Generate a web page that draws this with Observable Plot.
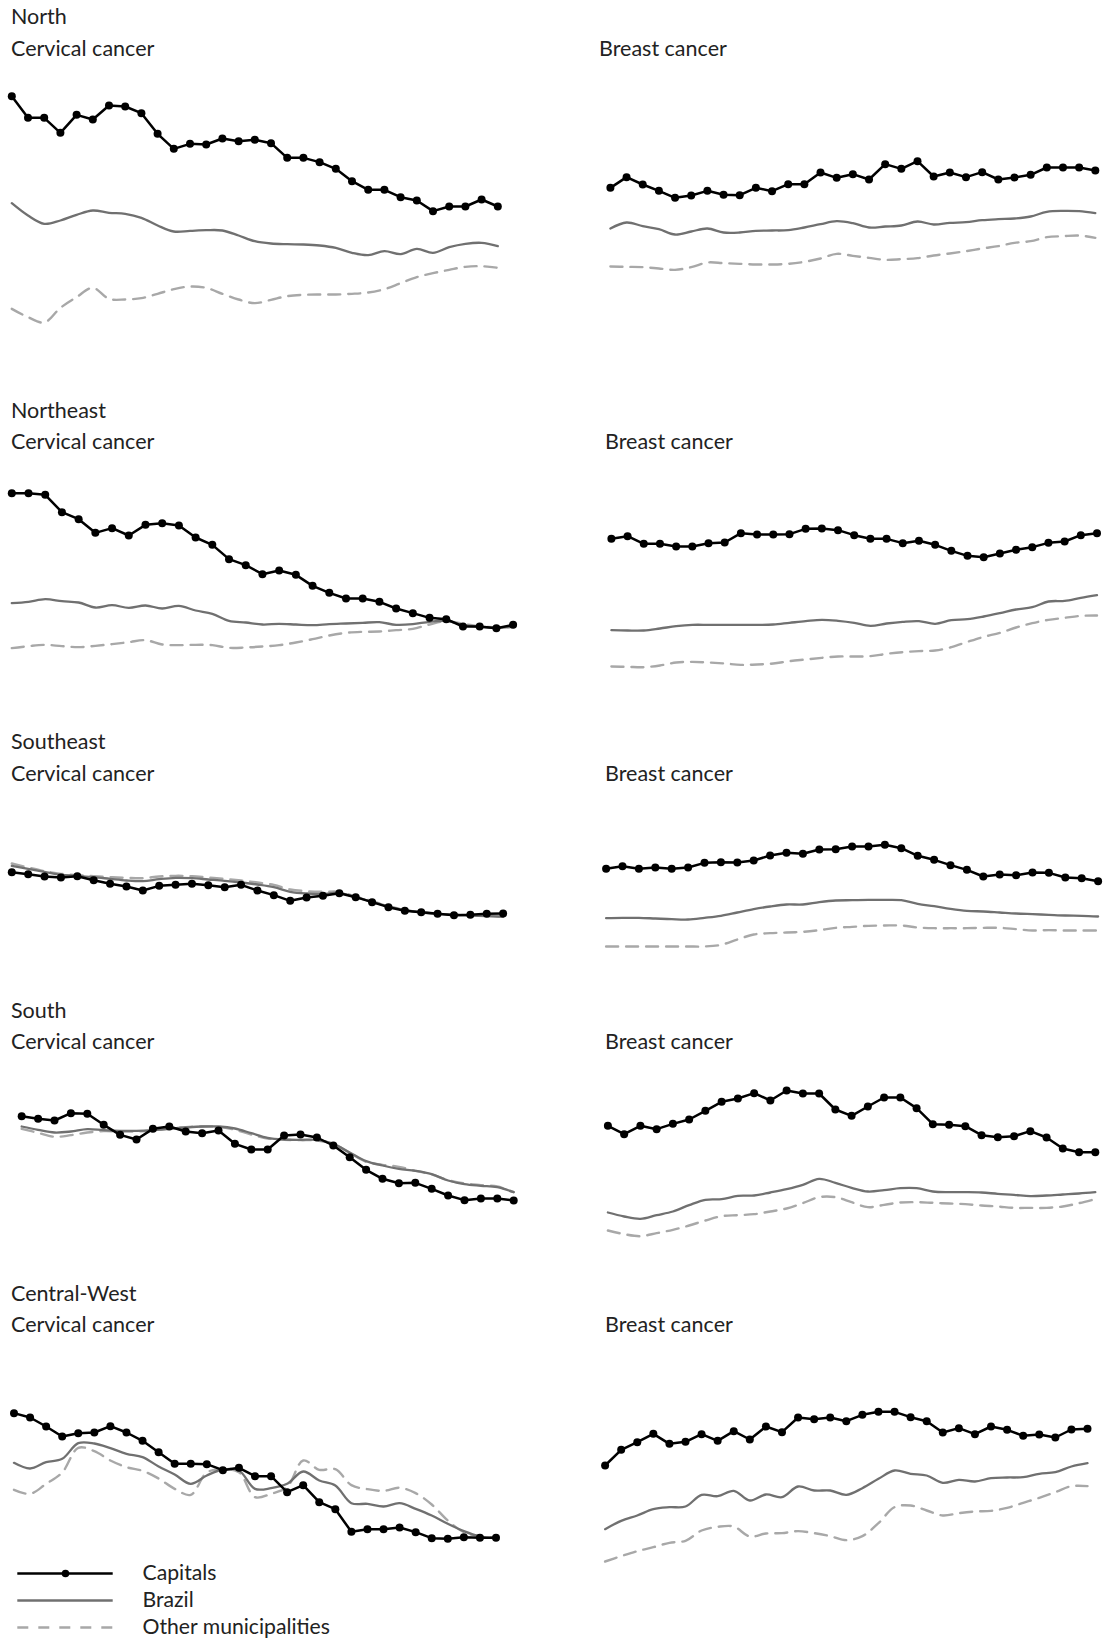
<!DOCTYPE html>
<html>
<head>
<meta charset="utf-8">
<script src="https://cdn.jsdelivr.net/npm/d3@7"></script>
<script src="https://cdn.jsdelivr.net/npm/@observablehq/plot@0.6"></script>
<style>
  html, body { margin: 0; padding: 0; background: #fff; }
  #root { position: relative; width: 1110px; height: 1643px; overflow: hidden; font-family: Lato, "Open Sans", sans-serif; color: #222; }
  .ttl { position: absolute; font-size: 21.5px; line-height: 21.5px; white-space: nowrap; }
  .pnl { position: absolute; }
  .pnl svg { background: transparent; overflow: visible; }
</style>
</head>
<body>
<div id="root"></div>
<script>
// ---------- DATA (age-standardised rates, arbitrary units) ----------
const years = [1980,1981,1982,1983,1984,1985,1986,1987,1988,1989,1990,1991,1992,1993,1994,1995,
               1996,1997,1998,1999,2000,2001,2002,2003,2004,2005,2006,2007,2008,2009,2010];
const seriesNames = ["Capitals", "Brazil", "Other municipalities"];

// North
const northCervCapitals = [71.3,64.8,64.8,60.3,65.7,64.3,68.5,68.2,66.2,60.0,55.5,57.0,56.8,58.6,57.8,58.2,57.2,52.8,52.8,51.5,49.5,45.8,43.2,43.2,41.0,40.0,36.8,38.2,38.2,40.3,38.2];
const northCervBrazil   = [39.2,35.5,33.0,34.0,35.7,37.0,36.3,36.0,34.8,32.5,30.7,30.9,31.1,31.0,29.5,27.8,27.1,26.9,26.8,26.5,25.8,24.3,23.6,24.8,23.9,25.5,24.3,26.0,27.0,27.3,26.3];
const northCervOther    = [7.5,5.0,3.4,7.8,11.0,13.8,10.5,10.3,10.7,12.0,13.4,14.2,13.8,12.0,10.3,9.2,10.2,11.3,11.7,11.8,11.8,12.0,12.4,13.4,15.2,17.0,18.2,19.2,20.1,20.3,19.8];
const northBreCapitals  = [43.8,47.0,44.8,42.9,40.8,41.5,42.9,41.7,41.6,43.8,42.8,44.9,44.9,48.4,46.8,47.9,46.3,50.9,49.5,51.8,47.2,48.4,47.0,48.5,46.3,46.9,47.7,49.9,49.9,49.9,49.0];
const northBreBrazil    = [31.6,33.4,32.3,31.4,29.8,30.7,31.6,30.4,30.4,30.9,31.0,31.1,31.9,32.9,33.8,33.2,31.9,32.2,32.5,33.7,32.8,33.3,33.5,34.1,34.4,34.6,35.2,36.6,36.9,36.8,36.2];
const northBreOther     = [20.2,20.1,20.0,19.6,19.2,20.0,21.4,21.2,21.0,20.8,20.8,21.0,21.6,22.6,24.0,23.4,22.8,22.2,22.4,22.7,23.5,24.1,24.8,25.6,26.3,27.3,27.8,29.0,29.3,29.5,28.8];
// Northeast
const neCervCapitals = [72.2,72.2,71.7,66.5,64.4,60.3,61.7,59.5,62.7,63.2,62.5,58.9,56.7,52.4,50.6,47.9,49.0,47.7,44.4,42.3,40.6,40.6,39.6,37.6,36.2,34.8,34.4,32.2,32.2,31.7,32.7];
const neCervBrazil   = [39.2,39.6,40.4,39.8,39.4,37.9,38.6,37.8,38.5,37.6,38.4,37.0,36.0,33.9,33.4,32.8,33.0,32.8,32.6,32.9,33.1,33.3,33.5,32.7,32.9,33.6,33.9,32.7,32.1,31.8,32.2];
const neCervOther    = [25.7,26.3,26.7,26.3,26.0,26.4,26.9,27.5,28.1,26.8,26.6,26.7,26.6,25.8,25.9,26.2,26.6,27.4,28.4,29.5,30.3,30.6,30.7,31.1,31.5,32.8,33.8,33.0,32.2,32.0,32.0];
const neBreCapitals  = [58.5,59.3,57.0,57.0,56.2,56.2,57.2,57.4,60.2,59.8,59.8,59.9,61.5,61.6,61.1,59.6,58.5,58.5,57.2,57.9,56.7,54.9,53.4,53.0,54.1,55.2,56.0,57.3,57.7,59.6,60.2];
const neBreBrazil    = [31.1,31.0,31.0,31.6,32.3,32.7,32.7,32.7,32.7,32.7,32.8,33.3,33.8,34.2,33.9,33.3,32.4,33.1,33.6,33.8,33.0,34.1,34.4,35.2,36.2,37.3,38.0,39.7,39.9,40.8,41.6];
const neBreOther     = [20.2,20.1,20.0,20.5,21.4,21.6,21.4,21.1,20.7,20.8,21.1,21.8,22.3,22.8,23.2,23.2,23.3,24.0,24.5,24.8,25.0,26.0,27.6,29.1,30.3,31.9,33.2,34.2,34.8,35.4,35.5];
// Southeast
const seCervCapitals = [57.5,56.9,56.2,55.9,56.3,55.1,54.0,53.2,52.0,53.4,53.7,54.0,53.6,53.0,53.7,52.0,50.6,48.9,49.9,50.4,51.2,50.0,48.5,47.0,45.9,45.5,45.0,44.6,44.7,45.0,45.1];
const seCervBrazil   = [59.4,58.5,57.6,56.7,56.4,56.0,55.5,55.0,54.8,55.4,55.8,55.7,55.3,54.9,54.4,53.8,53.0,51.6,51.1,51.0,51.3,50.0,48.6,47.2,46.1,45.4,45.0,44.7,44.5,44.3,44.1];
const seCervOther    = [60.1,58.9,57.8,57.0,56.6,56.3,56.0,55.8,55.7,56.2,56.4,56.3,55.9,55.5,55.0,54.4,53.7,52.3,51.8,51.6,51.6,50.2,48.8,47.3,46.2,45.5,45.1,44.8,44.6,44.4,44.2];
const seBreCapitals  = [58.5,59.3,58.5,58.9,58.5,58.9,60.3,60.5,60.4,61.0,62.5,63.3,63.0,64.3,64.4,65.2,65.2,65.7,64.7,62.4,61.2,59.6,58.2,56.2,56.8,56.6,57.4,57.3,55.9,55.7,54.8];
const seBreBrazil    = [43.7,43.8,43.8,43.6,43.4,43.3,43.8,44.4,45.4,46.4,47.2,47.8,47.8,48.5,49.0,49.1,49.2,49.2,49.1,48.0,47.3,46.5,45.9,45.7,45.4,45.1,44.9,44.7,44.5,44.4,44.2];
const seBreOther     = [35.2,35.2,35.2,35.2,35.2,35.2,35.2,35.7,37.3,38.8,39.2,39.4,39.6,40.1,40.8,41.1,41.4,41.5,41.5,40.9,40.7,40.7,40.7,40.8,40.8,40.4,40.0,40.1,40.0,40.0,40.0];
// South
const sCervCapitals = [65.3,64.5,64.0,66.2,66.0,62.7,59.7,58.3,61.5,62.2,60.7,60.2,61.0,57.0,55.3,55.3,59.5,59.8,58.9,56.5,53.0,49.2,46.5,45.2,45.3,43.5,41.5,40.1,40.6,40.6,40.0];
const sCervBrazil   = [62.2,61.2,60.4,60.7,61.4,61.1,60.9,60.9,61.1,61.5,61.9,62.2,62.2,61.6,60.2,58.8,58.3,58.2,58.2,57.0,54.4,51.8,50.5,49.5,48.9,47.9,46.0,44.9,44.4,44.0,42.5];
const sCervOther    = [61.5,60.3,59.1,59.6,60.4,60.8,60.7,60.7,61.0,61.6,62.0,62.2,62.1,61.2,59.8,58.6,58.2,58.1,58.0,57.0,54.3,51.6,50.7,50.1,48.9,47.8,46.1,45.1,44.6,44.2,42.5];
const sBreCapitals  = [62.4,59.9,62.4,61.4,63.0,64.3,66.9,69.6,70.6,72.2,70.0,73.0,72.1,72.1,67.3,65.4,68.2,70.9,70.9,67.7,62.9,62.7,62.3,59.6,59.0,59.3,60.8,58.9,55.6,54.5,54.5];
const sBreBrazil    = [36.4,35.2,34.5,35.6,36.7,38.6,40.2,40.4,41.4,41.5,42.4,43.4,44.7,46.5,45.3,43.8,42.7,43.1,43.7,43.7,42.7,42.5,42.5,42.4,42.0,41.7,41.3,41.5,41.8,42.1,42.5];
const sBreOther     = [31.0,29.9,29.3,30.2,31.2,32.5,34.0,35.3,35.6,35.9,36.7,37.6,39.2,41.0,41.0,39.5,38.0,38.7,39.4,39.5,39.3,39.1,38.9,38.5,38.2,37.8,37.8,37.8,38.2,39.2,40.4];
// Central-West
const cwCervCapitals = [60.2,58.9,56.2,53.2,54.2,54.4,56.3,54.4,51.9,48.5,45.0,45.0,44.9,43.1,43.8,41.3,41.3,36.5,38.6,33.5,31.4,24.6,25.4,25.4,25.9,24.5,22.7,22.5,23.0,22.8,22.8];
const cwCervBrazil   = [45.3,43.6,45.5,46.5,51.2,51.1,49.7,48.0,47.0,44.2,41.8,39.0,41.5,43.3,43.0,37.5,37.7,39.0,42.7,40.0,38.5,33.2,33.0,32.2,33.2,31.5,29.5,27.0,24.8,23.2,22.7];
const cwCervOther    = [37.2,36.0,39.0,42.4,49.8,48.8,46.0,44.0,42.9,40.6,37.5,35.7,42.4,43.4,42.5,35.0,36.0,38.0,46.0,43.2,43.4,38.6,37.4,36.9,37.8,36.2,32.8,28.0,24.5,23.3,22.8];
const cwBreCapitals  = [44.5,49.2,51.5,54.0,51.0,51.6,53.9,51.9,54.8,52.3,56.2,54.5,58.9,58.4,58.9,57.8,59.7,60.6,60.6,59.0,57.8,54.4,55.7,53.9,56.2,55.2,53.4,53.8,52.9,55.3,55.5];
const cwBreBrazil    = [25.4,27.9,29.5,31.4,32.0,32.2,35.7,35.3,36.9,34.0,35.8,35.0,38.2,37.0,37.0,35.7,37.7,40.5,43.0,42.0,41.5,39.3,40.2,39.7,40.7,40.9,41.0,42.0,42.5,44.2,45.2];
const cwBreOther     = [15.7,17.3,18.8,20.0,21.3,21.9,25.0,26.1,26.2,23.2,24.1,24.2,24.8,24.2,23.3,22.1,23.3,27.2,32.0,32.5,31.0,29.5,30.2,30.7,30.9,31.8,33.3,34.8,36.5,38.3,38.3];

const regions = ["North", "Northeast", "Southeast", "South", "Central-West"];
const cancers = ["Cervical cancer", "Breast cancer"];

// ---------- LAYOUT ----------
const panels = [
  {cancer:0, top:0,    h:360, x0:11.3, x1:497.3, cap:northCervCapitals, bra:northCervBrazil, oth:northCervOther},
  {cancer:1, top:0,    h:360, x0:54.9, x1:539.8, cap:northBreCapitals,  bra:northBreBrazil,  oth:northBreOther},
  {cancer:0, top:400,  h:320, x0:11.3, x1:512.6, cap:neCervCapitals, bra:neCervBrazil, oth:neCervOther},
  {cancer:1, top:400,  h:320, x0:55.9, x1:541.5, cap:neBreCapitals,  bra:neBreBrazil,  oth:neBreOther},
  {cancer:0, top:730,  h:260, x0:11.3, x1:502.6, cap:seCervCapitals, bra:seCervBrazil, oth:seCervOther},
  {cancer:1, top:730,  h:260, x0:50.6, x1:542.6, cap:seBreCapitals,  bra:seBreBrazil,  oth:seBreOther},
  {cancer:0, top:1000, h:270, x0:21.2, x1:513.2, cap:sCervCapitals, bra:sCervBrazil, oth:sCervOther},
  {cancer:1, top:1000, h:270, x0:52.4, x1:539.8, cap:sBreCapitals,  bra:sBreBrazil,  oth:sBreOther},
  {cancer:0, top:1280, h:265, x0:13.5, x1:495.5, cap:cwCervCapitals, bra:cwCervBrazil, oth:cwCervOther},
  {cancer:1, top:1280, h:300, x0:49.6, x1:532.0, cap:cwBreCapitals,  bra:cwBreBrazil,  oth:cwBreOther}
];
const regionBaselines = [25, 418.5, 750, 1018.5, 1301.5];
const cancerBaselines = [57, 450, 782, 1049.5, 1333];
const breastLabelX = [599, 605, 605, 605, 605];

const root = document.getElementById("root");
function addText(txt, x, baseline) {
  const d = document.createElement("div");
  d.className = "ttl";
  d.textContent = txt;
  d.style.left = x + "px";
  d.style.top = (baseline - 19) + "px";
  root.appendChild(d);
}

const rows = (arr) => years.map((year, i) => ({year, v: arr[i]}));

for (const p of panels) {
  const left = p.cancer === 0 ? 0 : 555;
  const plot = Plot.plot({
    width: 555,
    height: p.h,
    marginTop: 0, marginBottom: 0, marginLeft: 0, marginRight: 0,
    x: {domain: [1980, 2010], range: [p.x0, p.x1], axis: null},
    y: {domain: [100 - 0.3 * p.h, 100], range: [p.h, 0], axis: null},
    style: {background: "transparent", overflow: "visible"},
    marks: [
      Plot.line(rows(p.oth), {x: "year", y: "v", stroke: "#a8a8a8", strokeWidth: 2.4, strokeDasharray: "12,8", curve: "catmull-rom"}),
      Plot.line(rows(p.bra), {x: "year", y: "v", stroke: "#707070", strokeWidth: 2.3, curve: "catmull-rom"}),
      Plot.line(rows(p.cap), {x: "year", y: "v", stroke: "#000", strokeWidth: 2.5}),
      Plot.dot(rows(p.cap), {x: "year", y: "v", r: 4, fill: "#000", stroke: "none"})
    ]
  });
  const wrap = document.createElement("div");
  wrap.className = "pnl";
  wrap.style.left = left + "px";
  wrap.style.top = p.top + "px";
  wrap.appendChild(plot);
  root.appendChild(wrap);
}

regions.forEach((r, i) => {
  addText(r, 11, regionBaselines[i]);
  addText(cancers[0], 11, cancerBaselines[i]);
  addText(cancers[1], breastLabelX[i], cancerBaselines[i]);
});

// ---------- LEGEND ----------
const legendTop = 1550;
const legend = Plot.plot({
  width: 440, height: 93,
  marginTop: 0, marginBottom: 0, marginLeft: 0, marginRight: 0,
  x: {type: "linear", domain: [0, 440], range: [0, 440], axis: null},
  y: {type: "point", domain: seriesNames, range: [22.2, 77.3], padding: 0, axis: null},
  style: {background: "transparent", overflow: "visible", fontFamily: "Lato, 'Open Sans', sans-serif"},
  marks: [
    Plot.ruleY([seriesNames[0]], {y: d => d, x1: 17.3, x2: 112.7, stroke: "#000", strokeWidth: 2.5}),
    Plot.dot([seriesNames[0]], {y: d => d, x: 65, r: 3.8, fill: "#000", stroke: "none"}),
    Plot.ruleY([seriesNames[1]], {y: d => d, x1: 17.3, x2: 112.7, stroke: "#707070", strokeWidth: 2.3}),
    Plot.ruleY([seriesNames[2]], {y: d => d, x1: 17.3, x2: 112.7, stroke: "#a8a8a8", strokeWidth: 2.4, strokeDasharray: "11,10"}),
    Plot.text(seriesNames, {y: d => d, x: 142, text: d => d, textAnchor: "start", dy: 0, fontSize: 21.2, fill: "#222"})
  ]
});
const lw = document.createElement("div");
lw.className = "pnl";
lw.style.left = "0px";
lw.style.top = legendTop + "px";
lw.appendChild(legend);
root.appendChild(lw);
</script>
</body>
</html>
